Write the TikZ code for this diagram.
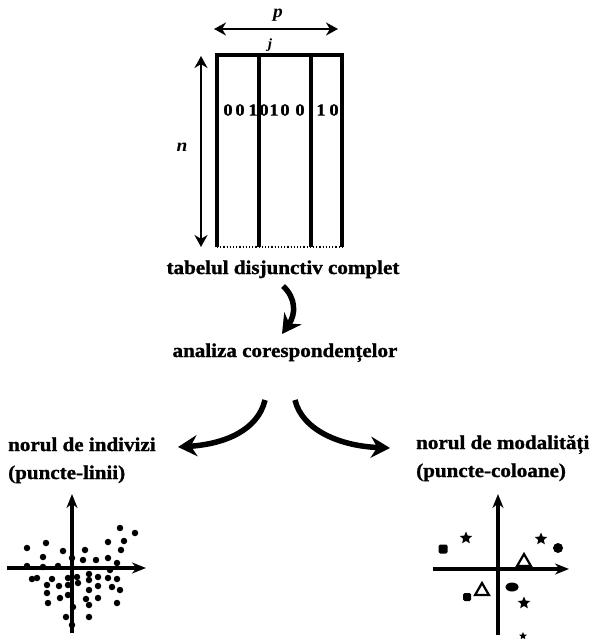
\documentclass[tikz,border=0pt]{standalone}
\usepackage{fontspec}
\setmainfont{Liberation Serif}[FakeStretch=1.08, BoldFeatures={FakeBold=1.2}]
\usetikzlibrary{arrows.meta,shapes.geometric}
\begin{document}
\begin{tikzpicture}[x=1pt,y=-1pt,
  lbl/.style={font=\fontsize{19.5}{24}\selectfont\bfseries, inner sep=0pt},
  digit/.style={font=\fontsize{17}{18}\selectfont\bfseries, inner sep=0pt},
  tbl/.style={line width=3.4pt},
  bigarrow/.style={line width=5.5pt, -{Stealth[length=19pt,width=21pt]}},
  axis/.style={line width=3.2pt, -{Stealth[length=14pt,width=11pt]}},
  dimarrow/.style={line width=2.6pt, {Stealth[length=12pt,width=13pt]}-{Stealth[length=12pt,width=13pt]}},
  dot/.style={circle, fill, inner sep=0pt, minimum size=6.5pt},
  sq/.style={rectangle, rounded corners=1.5pt, fill, inner sep=0pt, minimum size=9pt},
  st/.style={star, star points=5, star point ratio=2.2, fill, inner sep=0pt, minimum size=13pt},
  tri/.style={regular polygon, regular polygon sides=3, draw, line width=2.2pt, inner sep=0pt, minimum size=16pt}
]
\useasboundingbox (0,0) rectangle (593,639);

% ---- table ----
\coordinate (tl) at (217,55);
\coordinate (tr) at (342,55);
\coordinate (bl) at (217,247);
\coordinate (br) at (342,247);
\coordinate (c1t) at (259,55);
\coordinate (c1b) at (259,247);
\coordinate (c2t) at (311,55);
\coordinate (c2b) at (311,247);
\draw[tbl] (bl) -- (tl) -- (tr) -- (br);
\draw[tbl] (c1t) -- (c1b);
\draw[tbl] (c2t) -- (c2b);
\draw[line width=1.2pt, dotted] (bl) -- (br);

% digits
\foreach \x/\d [count=\i] in {228/0,240/0,253/1,264/0,274/1,285/0,300/0,321/1,334/0}
  \node[digit] (d\i) at (\x,110) {\d};

% p arrow
\coordinate (pl) at (214,29);
\coordinate (pr) at (338,29);
\draw[dimarrow] (pl) -- (pr);
\node[font=\fontsize{18}{18}\selectfont\itshape\bfseries, inner sep=0pt] (p) at (278,15) {p};
\node[font=\fontsize{14}{14}\selectfont\itshape\bfseries, inner sep=0pt] (j) at (270,45) {j};

% n arrow
\coordinate (nt) at (201,56);
\coordinate (nb) at (201,247);
\draw[dimarrow] (nt) -- (nb);
\node[font=\fontsize{18}{18}\selectfont\itshape\bfseries, inner sep=0pt] (n) at (182,147) {n};

% ---- labels ----
\node[lbl, anchor=base] (tdc) at (283,274) {tabelul disjunctiv complet};
\node[lbl, anchor=base] (ac) at (285,357) {analiza corespondențelor};
\node[lbl, anchor=base west] (ni) at (8,451) {norul de indivizi};
\node[lbl, anchor=base west] (pl2) at (8,479) {(puncte-linii)};
\node[lbl, anchor=base west] (nm) at (416,449) {norul de modalități};
\node[lbl, anchor=base west] (pc) at (416,477) {(puncte-coloane)};

% ---- curved arrows ----
\coordinate (a0) at (283,286);
\coordinate (a1) at (282,334);
\draw[bigarrow] (a0) .. controls (296,298) and (296,314) .. (a1);

\coordinate (l0) at (265,400);
\coordinate (l1) at (178,447);
\draw[bigarrow] (l0) .. controls (258,430) and (225,444) .. (l1);
\coordinate (r0) at (295,400);
\coordinate (r1) at (390,448);
\draw[bigarrow] (r0) .. controls (302,430) and (340,446) .. (r1);

% ---- left plot ----
\coordinate (lxa) at (7,568);
\coordinate (lxb) at (146,568);
\coordinate (lya) at (72,633);
\coordinate (lyb) at (72,494);
\draw[axis] (lxa) -- (lxb);
\draw[axis] (lya) -- (lyb);
\foreach \x/\y in {120/528,135/533,108/542,124/541,27/548,46/543,121/550,63/551,85/550,
  43/557,72/558,83/560,96/560,108/558,117/563,27/566,58/566,43/567,110/570,
  32/579,37/578,52/579,68/578,77/577,89/574,89/580,98/577,108/578,117/579,
  47/585,59/586,68/585,78/583,98/586,89/590,112/587,120/590,
  47/593,60/598,68/595,98/598,86/599,89/605,117/603,48/603,73/607,66/617,89/617,72/625}
  \node[dot] at (\x,\y) {};

% ---- right plot ----
\coordinate (rxa) at (433,569);
\coordinate (rxb) at (569,569);
\coordinate (rya) at (498,635);
\coordinate (ryb) at (498,494);
\draw[axis] (rxa) -- (rxb);
\draw[axis] (rya) -- (ryb);
\node[sq] (q1) at (443,549) {};
\node[st] (s1) at (466,538) {};
\node[st] (s2) at (541,539) {};
\node[circle, fill, inner sep=0pt, minimum size=10pt] (o1) at (558,548) {};
\node[tri] (t1) at (524,562) {};
\node[tri] (t2) at (482,591) {};
\node[sq, minimum size=8pt] (q2) at (467,597) {};
\node[ellipse, fill, inner sep=0pt, minimum width=13pt, minimum height=9pt] (e1) at (512,587) {};
\node[st] (s3) at (524,603) {};
\node[st, minimum size=8pt] (s4) at (523,636) {};
\end{tikzpicture}
\end{document}
